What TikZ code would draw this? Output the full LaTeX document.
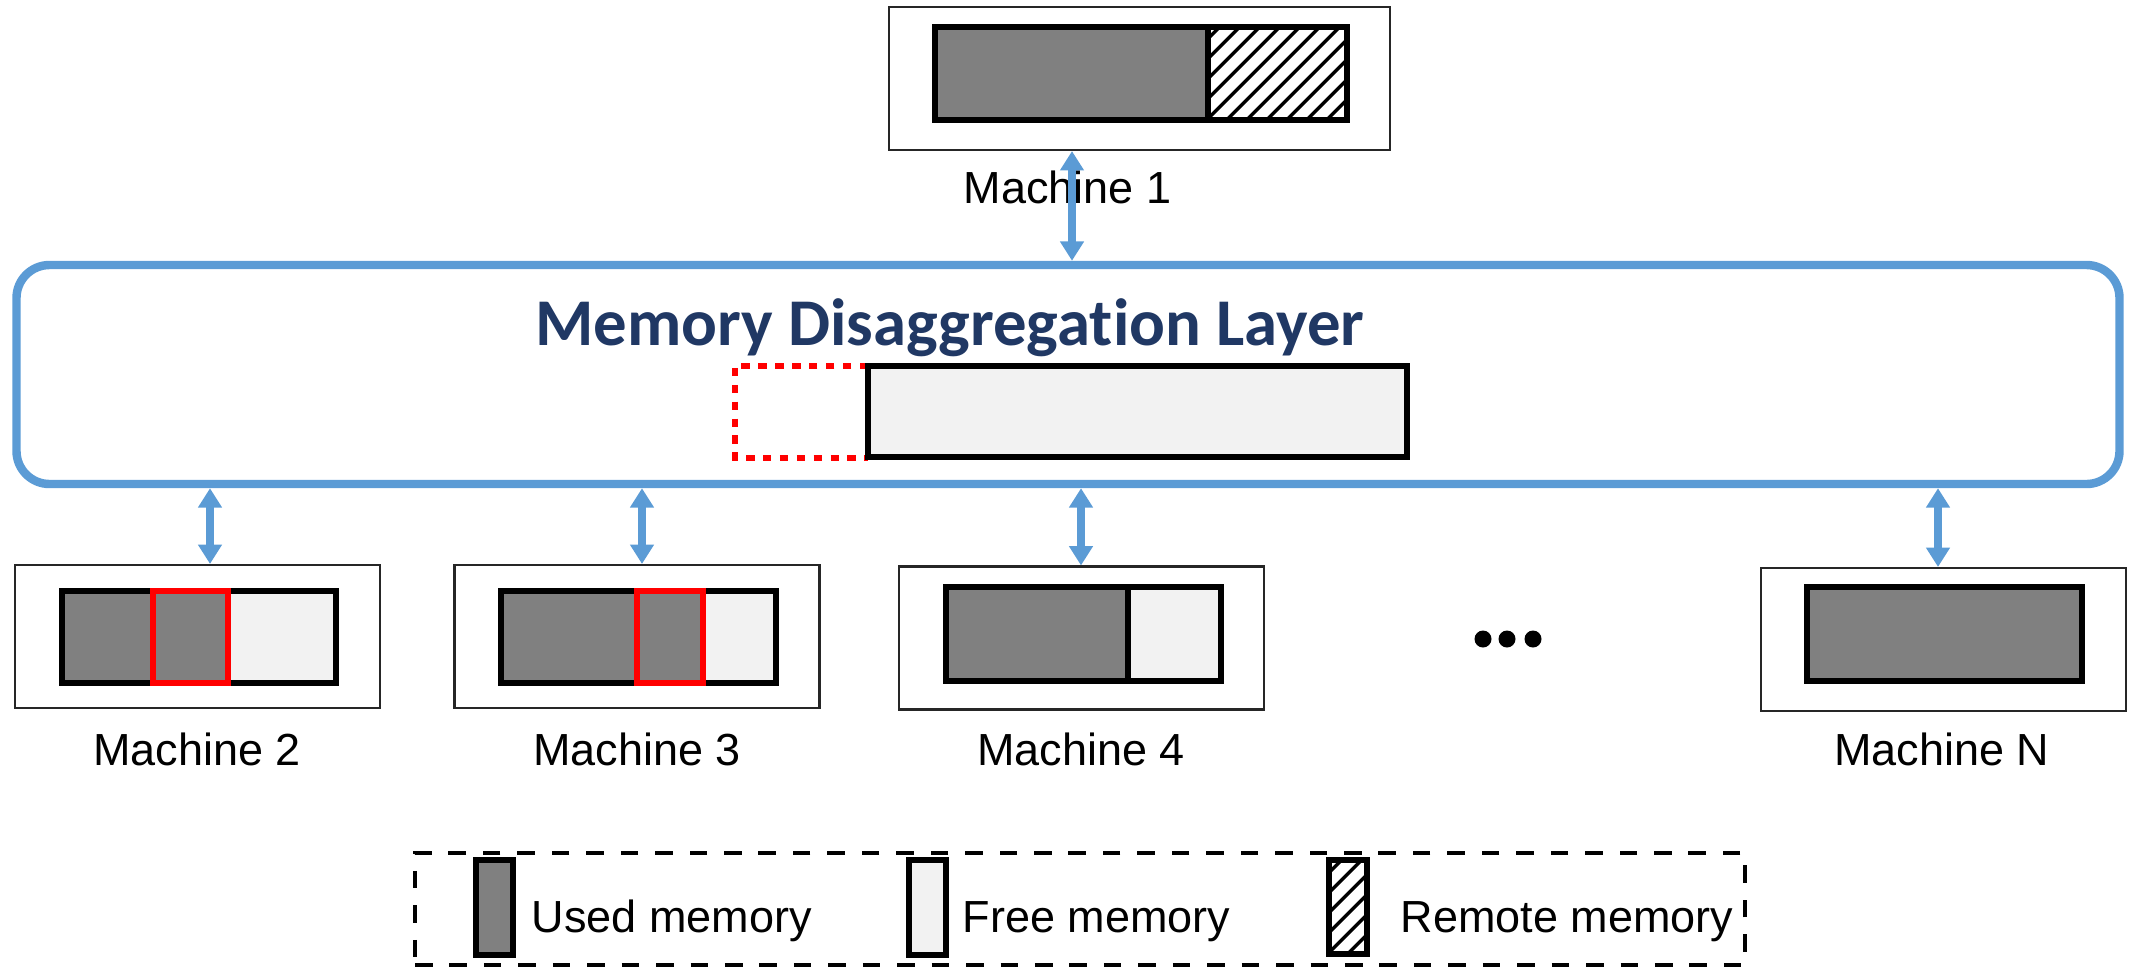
\documentclass[tikz,border=0pt]{standalone}
\usepackage{fontspec}
\setmainfont{Liberation Sans}
\newfontfamily\titlefont[Ligatures=NoCommon]{Carlito}
\usepackage{xcolor}
\definecolor{layerblue}{RGB}{91,155,213}
\definecolor{titleblue}{RGB}{32,56,100}
\definecolor{usedgray}{RGB}{128,128,128}
\definecolor{freegray}{RGB}{242,242,242}
\usepackage{tikz}
\usetikzlibrary{shapes,arrows.meta,positioning,calc,patterns.meta}

\tikzset{
  machine/.style={draw=black!85, line width=0.6pt, minimum width=3.65cm, minimum height=1.43cm, inner sep=0pt},
  mlabel/.style={font=\fontsize{12.8}{15}\selectfont, anchor=base, inner sep=0pt},
  bar/.style={draw=black, line width=1.5pt},
  redbox/.style={draw=red, line width=1.5pt},
  hatch/.style={pattern={Lines[angle=45,distance=4pt,line width=1pt]}},
  duplex/.style={draw=layerblue, line width=2.2pt, {Triangle[width=6.5pt,length=5.5pt]}-{Triangle[width=6.5pt,length=5.5pt]}},
}

\begin{document}
\begin{tikzpicture}
  \useasboundingbox (0,0) rectangle (21.36,-9.69);
  % 机器 1
  \node[machine, minimum width=5.01cm] (m1) at (11.395,-0.785) {};
  \fill[usedgray] (9.35,-0.27) rectangle (12.08,-1.20);
  \draw[hatch] (12.08,-0.27) rectangle (13.47,-1.20);
  \draw[bar] (9.35,-0.27) rectangle (13.47,-1.20);
  \draw[bar] (12.08,-0.27) -- (12.08,-1.20);
  \node[mlabel] (lab1) at (10.675,-2.03) {Machine 1};
  % 内存解聚层
  \node[draw=layerblue, line width=2.4pt, rounded corners=0.33cm, minimum width=21.03cm, minimum height=2.19cm] (layer) at (10.68,-3.745) {};
  \node[font=\titlefont\bfseries\fontsize{19}{22}\selectfont, text=titleblue, anchor=base, inner sep=0pt] (title) at (9.50,-3.45) {Memory Disaggregation Layer};
  \draw[red, line width=1.6pt, dash pattern=on 2.4pt off 2.4pt] (8.68,-3.66) -- (7.35,-3.66) -- (7.35,-4.58) -- (8.68,-4.58);
  \draw[bar, fill=freegray] (8.68,-3.66) rectangle (14.07,-4.57);
  % 下方机器
  \node[machine] (m2) at (1.975,-6.365) {};
  \node[machine] (m3) at (6.37,-6.365) {};
  \node[machine] (m4) at (10.815,-6.38) {};
  \node[machine] (mN) at (19.435,-6.395) {};
  % 机器 2
  \fill[usedgray] (0.62,-5.91) rectangle (2.28,-6.83);
  \fill[freegray] (2.28,-5.91) rectangle (3.36,-6.83);
  \draw[bar] (0.62,-5.91) rectangle (3.36,-6.83);
  \draw[redbox] (1.53,-5.91) rectangle (2.28,-6.83);
  % 机器 3
  \fill[usedgray] (5.01,-5.91) rectangle (7.03,-6.83);
  \fill[freegray] (7.03,-5.91) rectangle (7.76,-6.83);
  \draw[bar] (5.01,-5.91) rectangle (7.76,-6.83);
  \draw[redbox] (6.37,-5.91) rectangle (7.03,-6.83);
  % 机器 4
  \fill[usedgray] (9.46,-5.87) rectangle (11.28,-6.81);
  \fill[freegray] (11.28,-5.87) rectangle (12.21,-6.81);
  \draw[bar] (9.46,-5.87) rectangle (12.21,-6.81);
  \draw[bar] (11.28,-5.87) -- (11.28,-6.81);
  % 机器 N
  \draw[bar, fill=usedgray] (18.07,-5.87) rectangle (20.82,-6.81);
  % 省略号
  \fill (14.83,-6.39) circle (0.085);
  \fill (15.07,-6.39) circle (0.085);
  \fill (15.33,-6.39) circle (0.085);
  % 名字
  \node[mlabel] (lab2) at (1.97,-7.65) {Machine 2};
  \node[mlabel] (lab3) at (6.37,-7.65) {Machine 3};
  \node[mlabel] (lab4) at (10.81,-7.65) {Machine 4};
  \node[mlabel] (labN) at (19.42,-7.65) {Machine N};
  % 连接
  \coordinate (a1) at (10.72,0);
  \coordinate (a2) at (2.10,0);
  \coordinate (a3) at (6.42,0);
  \coordinate (a4) at (10.81,0);
  \coordinate (aN) at (19.38,0);
  \draw[duplex] (a1 |- m1.south) -- (a1 |- layer.north);
  \draw[duplex] (a2 |- layer.south) -- (a2 |- m2.north);
  \draw[duplex] (a3 |- layer.south) -- (a3 |- m3.north);
  \draw[duplex] (a4 |- layer.south) -- (a4 |- m4.north);
  \draw[duplex] (aN |- layer.south) -- (aN |- mN.north);
  % 图例
  \node[draw, line width=1.3pt, dash pattern=on 5pt off 4.8pt, minimum width=13.3cm, minimum height=1.12cm] (legend) at (10.80,-9.09) {};
  \draw[bar, fill=usedgray] (4.76,-8.60) rectangle (5.13,-9.55);
  \node[mlabel, anchor=base west] (lused) at (5.31,-9.32) {Used memory};
  \draw[bar, fill=freegray] (9.09,-8.60) rectangle (9.46,-9.55);
  \node[mlabel, anchor=base west] (lfree) at (9.62,-9.32) {Free memory};
  \draw[bar, hatch] (13.29,-8.60) rectangle (13.67,-9.54);
  \node[mlabel, anchor=base west] (lremote) at (14.00,-9.32) {Remote memory};
\end{tikzpicture}
\end{document}
